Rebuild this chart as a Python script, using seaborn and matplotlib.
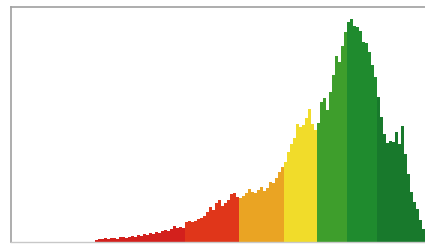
import numpy as np
import pandas as pd
import matplotlib
matplotlib.use('Agg')
import matplotlib.pyplot as plt
import seaborn as sns

# counts per 3-unit bin, grouped by colour band
bands = ['red', 'red2', 'orange', 'yellow', 'green', 'green2', 'darkgreen']
red = [2, 3, 3, 4, 3, 4, 4, 3, 5, 5, 4, 5, 6, 5, 7, 6, 8, 7, 9, 8,
       10, 9, 11, 12, 11, 13, 16, 14, 15, 14]
red2 = [20, 21, 20, 21, 23, 24, 26, 30, 35, 32, 39, 42, 36, 39, 42, 48, 49, 45]
orange = [44, 46, 49, 53, 50, 49, 52, 55, 51, 54, 60, 59, 64, 70, 75]
yellow = [80, 90, 98, 104, 118, 115, 117, 124, 133, 118, 112]
green = [119, 140, 144, 132, 150, 167, 186, 180, 196, 210]
green2 = [220, 223, 216, 215, 211, 200, 199, 190, 177, 165]
darkgreen = [145, 125, 108, 99, 101, 100, 110, 98, 116, 88, 68, 50, 40, 33, 22, 13]

band_colors = {'red': '#d3201c', 'red2': '#e0361a', 'orange': '#eaa423',
               'yellow': '#f1dc2a', 'green': '#3e9e2c', 'green2': '#1f8b2e',
               'darkgreen': '#18792c'}

series = [red, red2, orange, yellow, green, green2, darkgreen]
counts = [c for s in series for c in s]
band = [b for b, s in zip(bands, series) for _ in s]

start, width = 95, 3
edges = start + width * np.arange(len(counts) + 1)
centers = (edges[:-1] + edges[1:]) / 2
df = pd.DataFrame({'score': centers, 'count': counts, 'band': band})

sns.set_style('white')
fig = plt.figure(figsize=(4.25, 2.46), dpi=100)
# the plot runs off the right edge of the picture
ax = fig.add_axes([11 / 425, 4 / 246, 424 / 425, 235 / 246])

sns.histplot(data=df, x='score', weights='count', hue='band', bins=edges.tolist(),
             palette=band_colors, hue_order=bands, element='step', fill=True,
             alpha=1, linewidth=0, legend=False, ax=ax)

ax.set_xlim(11, 435)
ax.set_ylim(0, 235)
ax.set_xticks([])
ax.set_yticks([])
ax.set_xlabel('')
ax.set_ylabel('')
for side in ['top', 'left']:
    ax.spines[side].set_color('#a0a0a0')
    ax.spines[side].set_linewidth(1.2)
ax.spines['bottom'].set_color('#c8c8c8')
ax.spines['bottom'].set_linewidth(1)
ax.spines['right'].set_visible(False)

fig.savefig('out.png', dpi=100)
